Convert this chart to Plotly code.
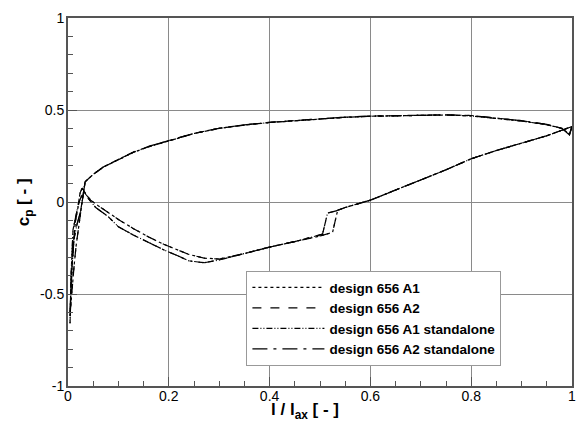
import plotly.graph_objects as go

# ---- data ----
# upper branch: trailing edge -> leading edge (shared by all series)
x_upper = [1.0, 0.995, 0.98, 0.95, 0.90, 0.85, 0.80, 0.75, 0.70, 0.65, 0.60, 0.55, 0.50,
           0.45, 0.40, 0.35, 0.30, 0.25, 0.20, 0.16, 0.13, 0.10, 0.07, 0.05, 0.034]
cp_upper_A1 = [0.41, 0.37, 0.40, 0.42, 0.44, 0.455, 0.468, 0.473, 0.472, 0.47, 0.466, 0.46, 0.452,
               0.443, 0.432, 0.418, 0.40, 0.372, 0.33, 0.30, 0.27, 0.23, 0.19, 0.15, 0.11]
cp_upper_A2 = [0.41, 0.365, 0.40, 0.422, 0.442, 0.456, 0.47, 0.474, 0.473, 0.471, 0.467, 0.461, 0.453,
               0.444, 0.433, 0.419, 0.401, 0.373, 0.332, 0.302, 0.272, 0.232, 0.19, 0.15, 0.11]

# leading-edge region (upper end -> lower start)
x_le_design = [0.028, 0.022, 0.016, 0.012, 0.008, 0.005, 0.004, 0.006, 0.010, 0.015, 0.022, 0.028, 0.033]
cp_le_design = [0.0, -0.12, -0.24, -0.35, -0.46, -0.58, -0.62, -0.45, -0.25, -0.10, 0.0, 0.04, 0.05]
x_le_stand = [0.025, 0.018, 0.012, 0.008, 0.005, 0.004, 0.006, 0.010, 0.016, 0.020, 0.024, 0.028, 0.032]
cp_le_stand = [-0.05, -0.12, -0.20, -0.35, -0.55, -0.66, -0.40, -0.15, -0.08, -0.02, 0.05, 0.075, 0.06]

# lower branch: leading edge -> trailing edge
x_lower_design = [0.045, 0.06, 0.08, 0.10, 0.13, 0.16, 0.19, 0.22, 0.24, 0.27, 0.30, 0.35, 0.40,
                  0.45, 0.50, 0.525, 0.535, 0.55, 0.60, 0.65, 0.70, 0.75, 0.80, 0.85, 0.90,
                  0.95, 0.98, 1.0]
cp_lower_design = [0.01, -0.02, -0.06, -0.095, -0.145, -0.19, -0.23, -0.265, -0.285, -0.305, -0.31,
                   -0.28, -0.245, -0.215, -0.185, -0.165, -0.045, -0.03, 0.01, 0.065, 0.12, 0.175,
                   0.235, 0.28, 0.32, 0.36, 0.39, 0.41]
x_lower_stand = [0.04, 0.055, 0.08, 0.10, 0.13, 0.16, 0.19, 0.22, 0.24, 0.27, 0.30, 0.35, 0.40,
                 0.45, 0.50, 0.505, 0.515, 0.53, 0.55, 0.60, 0.65, 0.70, 0.75, 0.80, 0.85, 0.90,
                 0.95, 0.98, 1.0]
cp_lower_stand = [0.02, -0.03, -0.08, -0.135, -0.18, -0.22, -0.26, -0.295, -0.32, -0.33, -0.315,
                  -0.28, -0.245, -0.215, -0.18, -0.175, -0.06, -0.05, -0.03, 0.01, 0.065, 0.12,
                  0.175, 0.235, 0.28, 0.32, 0.36, 0.39, 0.41]

x_ticks = [0, 0.2, 0.4, 0.6, 0.8, 1]
x_tick_text = ["0", "0.2", "0.4", "0.6", "0.8", "1"]
y_ticks = [-1, -0.5, 0, 0.5, 1]
y_tick_text = ["-1", "-0.5", "0", "0.5", "1"]

names = ["design 656 A1", "design 656 A2", "design 656 A1 standalone", "design 656 A2 standalone"]
dashes = ["dot", "dash", "6px,2px,1px,2px,1px,2px", "longdashdot"]

series = [
    (x_upper + x_le_design + x_lower_design, cp_upper_A1 + cp_le_design + cp_lower_design),
    (x_upper + x_le_design + x_lower_design, cp_upper_A2 + cp_le_design + cp_lower_design),
    (x_upper + x_le_stand + x_lower_stand, cp_upper_A1 + cp_le_stand + cp_lower_stand),
    (x_upper + x_le_stand + x_lower_stand, cp_upper_A2 + cp_le_stand + cp_lower_stand),
]

fig = go.Figure()
for (xs, ys), name, dash in zip(series, names, dashes):
    fig.add_trace(go.Scatter(x=xs, y=ys, mode="lines", name=name,
                             line=dict(color="black", width=1.2, dash=dash)))

font_family = "Liberation Sans, Arial, sans-serif"
axis_common = dict(
    showline=True, linewidth=2, linecolor="#555", mirror=True,
    showgrid=True, gridcolor="#8a8a8a", gridwidth=1,
    ticks="inside", ticklen=9, tickwidth=1, tickcolor="#555",
    zeroline=False, ticklabeloverflow="allow",
    tickfont=dict(family=font_family, size=14, color="black"),
)
fig.update_xaxes(range=[0, 1], tickvals=x_ticks, ticktext=x_tick_text, ticklabelstandoff=-4,
                 minor=dict(ticks="inside", ticklen=5, tickcolor="#555", dtick=0.05, showgrid=False),
                 **axis_common)
fig.update_yaxes(range=[-1, 1], tickvals=y_ticks, ticktext=y_tick_text, ticklabelstandoff=-1,
                 minor=dict(ticks="inside", ticklen=5, tickcolor="#555", dtick=0.1, showgrid=False),
                 **axis_common)

fig.add_annotation(text="<b>l / l<sub>ax</sub> [ - ]</b>", xref="paper", yref="paper",
                   x=(307 - 68) / 508, y=(386 - 411) / 368, xanchor="center", yanchor="middle",
                   showarrow=False, borderpad=0,
                   font=dict(family=font_family, size=17, color="black"))
fig.add_annotation(text="<b>c<sub>p</sub> [ - ]</b>", xref="paper", yref="paper",
                   x=(25 - 68) / 508, y=0.5, xanchor="center", yanchor="middle",
                   textangle=-90, showarrow=False, font=dict(family=font_family, size=17, color="black"))

fig.update_layout(
    width=576, height=421,
    margin=dict(l=68, r=0, t=18, b=35),
    plot_bgcolor="white", paper_bgcolor="white",
    font=dict(family=font_family, color="black"),
    legend=dict(x=0.354, y=0.3125, xanchor="left", yanchor="top",
                bgcolor="white", bordercolor="#999", borderwidth=1,
                font=dict(family=font_family, size=13.5, color="black", weight="bold"),
                itemwidth=72, tracegroupgap=0),
    showlegend=True,
)

fig.write_html("out.html")
